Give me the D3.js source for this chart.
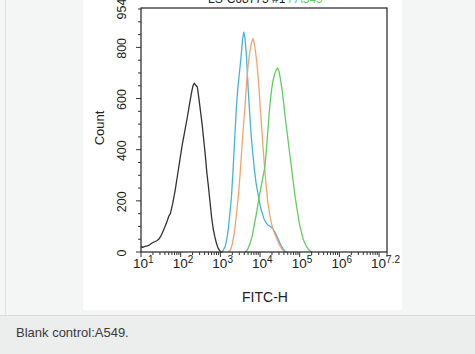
<!DOCTYPE html>
<html lang="en">
<head>
<meta charset="utf-8">
<title>Blank control A549 - FITC histogram</title>
<script src="https://d3js.org/d3.v7.min.js"></script>
<style>
  body { margin: 0; background: #f4f5f5; font-family: "Liberation Sans", Arial, sans-serif; }
  svg { display: block; }
</style>
</head>
<body>
<script type="text/javascript">

// histogram data: [log10(FITC-H), count]
const controlCurve = [[1.00,22],[1.04,18],[1.10,22],[1.16,24],[1.22,28],[1.28,35],[1.34,40],[1.40,44],[1.46,52],[1.52,68],[1.58,90],[1.64,112],[1.70,140],[1.74,150],[1.80,190],[1.86,240],[1.92,300],[1.98,360],[2.04,420],[2.10,470],[2.16,520],[2.22,575],[2.27,620],[2.31,650],[2.34,660],[2.38,652],[2.42,645],[2.46,600],[2.50,550],[2.54,500],[2.58,440],[2.62,380],[2.66,310],[2.70,255],[2.74,195],[2.78,135],[2.82,90],[2.86,60],[2.90,35],[2.94,16],[2.98,6],[3.02,1],[3.06,0]];
const blueCurve = [[3.00,0],[3.06,4],[3.12,20],[3.16,47],[3.20,90],[3.24,150],[3.28,215],[3.32,320],[3.36,440],[3.40,555],[3.44,640],[3.48,700],[3.52,760],[3.56,830],[3.59,860],[3.62,840],[3.66,760],[3.70,640],[3.74,540],[3.78,450],[3.82,380],[3.86,320],[3.90,270],[3.94,235],[3.98,200],[4.02,170],[4.06,150],[4.10,130],[4.15,115],[4.20,105],[4.26,100],[4.32,92],[4.38,76],[4.43,60],[4.48,42],[4.53,25],[4.58,12],[4.63,4],[4.68,0]];
const orangeCurve = [[3.20,0],[3.26,10],[3.30,30],[3.34,65],[3.38,110],[3.42,170],[3.46,230],[3.50,310],[3.54,400],[3.58,490],[3.62,570],[3.66,660],[3.70,730],[3.74,780],[3.78,815],[3.82,835],[3.85,820],[3.88,790],[3.92,740],[3.96,670],[4.00,580],[4.04,490],[4.08,400],[4.12,320],[4.16,250],[4.20,190],[4.24,150],[4.28,118],[4.32,92],[4.36,75],[4.40,60],[4.45,42],[4.50,25],[4.55,12],[4.60,4],[4.65,0]];
const greenCurve = [[3.62,0],[3.68,8],[3.74,30],[3.80,60],[3.86,110],[3.92,160],[3.97,210],[4.02,250],[4.07,290],[4.12,330],[4.16,400],[4.20,480],[4.24,560],[4.28,620],[4.32,665],[4.36,690],[4.40,710],[4.44,720],[4.48,705],[4.52,670],[4.56,630],[4.60,575],[4.64,520],[4.68,470],[4.72,420],[4.76,370],[4.80,320],[4.84,270],[4.88,220],[4.92,180],[4.96,140],[5.00,105],[5.04,80],[5.08,55],[5.12,38],[5.16,25],[5.20,14],[5.25,6],[5.30,0]];

const seriesNames = ["control", "blue", "orange", "green"];
const seriesColors = ["#333333", "#45b3dc", "#f5a36e", "#5fcf5f"];
const xTickExps = ["1", "2", "3", "4", "5", "6", "7.2"];
const yTicks = [0, 200, 400, 600, 800, 954];
const captionText = "Blank control:A549.";

const W = 475, H = 354;
const plot = { left: 141, right: 387, top: 8, bottom: 252 };

const svg = d3.select("body").append("svg")
    .attr("width", W)
    .attr("height", H);

// page background + white panel + caption strip
svg.append("rect").attr("x", 0).attr("y", 0).attr("width", W).attr("height", H).attr("fill", "#f4f5f5");
svg.append("line").attr("x1", 5.5).attr("x2", 5.5).attr("y1", 0).attr("y2", 315).attr("stroke", "#e0e1e1");
svg.append("rect").attr("x", 0).attr("y", 315.5).attr("width", W).attr("height", H - 315.5).attr("fill", "#eceded");
svg.append("line").attr("x1", 0).attr("x2", W).attr("y1", 315.5).attr("y2", 315.5).attr("stroke", "#d9dada");
svg.append("rect").attr("x", 83).attr("y", 0).attr("width", 319).attr("height", 310).attr("fill", "#ffffff");

svg.append("text")
    .attr("x", 16).attr("y", 336.5)
    .attr("font-size", 13).attr("fill", "#3a3a3a")
    .text(captionText);

// scales
const x = d3.scaleLog().domain([10, Math.pow(10, 7.2)]).range([plot.left, plot.right]);
const y = d3.scaleLinear().domain([0, 954]).range([plot.bottom, plot.top]);

// title, cut off at the top of the panel as in the source image
const title = svg.append("text")
    .attr("x", 208).attr("y", 3)
    .attr("font-size", 12).attr("fill", "#222");
title.append("tspan").text("LS-C68773 #1 ");
title.append("tspan").attr("fill", "#5fcf5f").text("/ A549");

// curves
const line = d3.line()
    .x(d => x(Math.pow(10, d[0])))
    .y(d => y(d[1]));

const curves = [controlCurve, blueCurve, orangeCurve, greenCurve];
const g = svg.append("g").attr("class", "curves");
g.selectAll("path")
    .data(curves)
    .join("path")
    .attr("class", (d, i) => seriesNames[i])
    .attr("fill", "none")
    .attr("stroke", (d, i) => seriesColors[i])
    .attr("stroke-width", 1.3)
    .attr("stroke-linejoin", "round")
    .attr("d", line);

// frame
svg.append("rect")
    .attr("x", plot.left).attr("y", plot.top)
    .attr("width", plot.right - plot.left).attr("height", plot.bottom - plot.top)
    .attr("fill", "none").attr("stroke", "#222").attr("stroke-width", 1.2);

// y axis ticks (major + minor every 50)
const yMinor = d3.range(0, 951, 50);
svg.append("g").selectAll("line")
    .data(yMinor)
    .join("line")
    .attr("x1", plot.left).attr("x2", d => d % 200 === 0 ? plot.left - 5 : plot.left - 3)
    .attr("y1", d => y(d)).attr("y2", d => y(d))
    .attr("stroke", "#333").attr("stroke-width", 1);

svg.append("g").selectAll("text")
    .data(yTicks)
    .join("text")
    .attr("transform", d => "translate(125.5," + (y(d) + 1) + ") rotate(-90)")
    .attr("text-anchor", "middle")
    .attr("font-size", 12.5).attr("fill", "#222")
    .text(d => d);

svg.append("text")
    .attr("transform", "translate(103.5,128) rotate(-90)")
    .attr("text-anchor", "middle")
    .attr("font-size", 13).attr("fill", "#222")
    .text("Count");

// x axis ticks (log decades + minors)
const xMinor = [];
for (let e = 1; e <= 7; e++) {
    for (let m = 1; m <= 9; m++) {
        const v = m * Math.pow(10, e);
        if (v <= Math.pow(10, 7.2)) xMinor.push({ v: v, major: m === 1 });
    }
}
svg.append("g").selectAll("line")
    .data(xMinor)
    .join("line")
    .attr("x1", d => x(d.v)).attr("x2", d => x(d.v))
    .attr("y1", plot.bottom).attr("y2", d => d.major ? plot.bottom + 5 : plot.bottom + 3)
    .attr("stroke", "#333").attr("stroke-width", 1);
svg.append("line")
    .attr("x1", plot.right).attr("x2", plot.right)
    .attr("y1", plot.bottom).attr("y2", plot.bottom + 5)
    .attr("stroke", "#333");

// last label is pulled left so it stays inside the panel
const lastExp = xTickExps[xTickExps.length - 1];
const xl = svg.append("g").selectAll("text")
    .data(xTickExps)
    .join("text")
    .attr("x", d => d === lastExp ? 400 : x(Math.pow(10, +d)) - 8)
    .attr("text-anchor", d => d === lastExp ? "end" : "start")
    .attr("y", 268)
    .attr("font-size", 13.5).attr("fill", "#222");
xl.append("tspan").text("10");
xl.append("tspan").attr("dy", -5.5).attr("font-size", 10).text(d => d);

svg.append("text")
    .attr("x", 265).attr("y", 302)
    .attr("text-anchor", "middle")
    .attr("font-size", 14).attr("fill", "#222")
    .text("FITC-H");

</script>
</body>
</html>
